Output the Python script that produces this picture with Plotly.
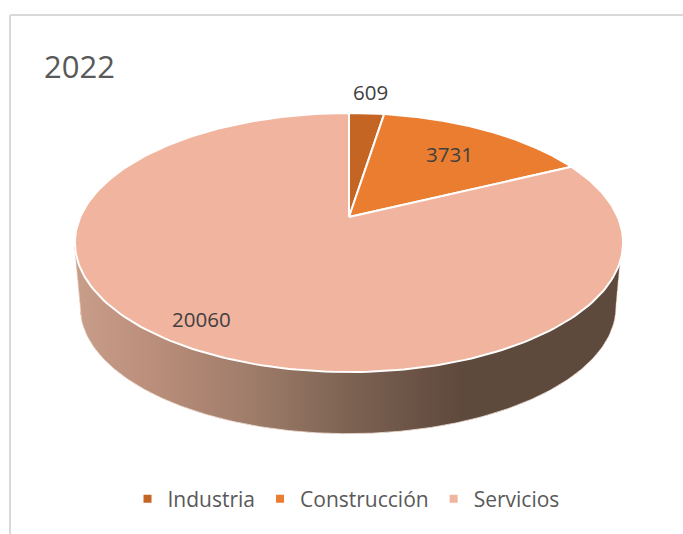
import numpy as np
import plotly.graph_objects as go

# --- data ---
title_text = "2022"
categories = ["Industria", "Construcción", "Servicios"]
values = [609, 3731, 20060]

# --- style ---
colors = ["#C46524", "#EB7D30", "#F1B49E"]
W, H = 683, 534
CX, CY = 349.0, 217.0      # pie apex on screen
A, B, P = 268.7, 124.5, 0.197  # perspective projection of the top disc
# ellipse outlines used for the side wall
TOP = dict(cx=348.0, cy=242.5, rx=274.0, ry=129.5)
BOT = dict(cx=348.0, cy=307.0, rx=268.0, ry=126.7)
grad_x = [74, 150, 250, 340, 400, 465, 622]
grad_rgb = [(201, 158, 139), (187, 143, 123), (160, 125, 107), (128, 101, 85),
            (111, 87, 73), (94, 73, 61), (94, 73, 61)]
label_r = [1.25, 0.70, 0.857]
label_shift = [(0, 0), (0, 0), (-5, 4)]


def project(theta, r=1.0):
    u, v = r * np.sin(theta), r * np.cos(theta)
    w = 1 + P * v
    return CX + A * u / w, CY - B * v / w


total = sum(values)
edges = np.cumsum([0] + values) / total * 2 * np.pi

fig = go.Figure()

# side wall: one thin bar per pixel column, shaded left to right
xs = np.arange(TOP["cx"] - TOP["rx"], TOP["cx"] + TOP["rx"], 1.0)
centers = xs + 0.5


def lower(e, x):
    d = np.clip((x - e["cx"]) / e["rx"], -1, 1)
    return e["cy"] + e["ry"] * np.sqrt(1 - d ** 2)


tops = lower(TOP, centers) - 2
bots = lower(BOT, centers)
# beyond the lower disc the silhouette is the straight side edge
for i, x in enumerate(centers):
    off = abs(x - TOP["cx"])
    if off > BOT["rx"]:
        t = (TOP["rx"] - off) / (TOP["rx"] - BOT["rx"])
        bots[i] = TOP["cy"] + t * (BOT["cy"] - TOP["cy"])
bar_colors = [
    "rgb(%d,%d,%d)" % tuple(np.interp(x, grad_x, [c[k] for c in grad_rgb]) for k in range(3))
    for x in centers
]
fig.add_trace(go.Bar(x=centers, base=tops, y=bots - tops, width=1.0,
                     marker=dict(color=bar_colors, line=dict(width=0)),
                     showlegend=False, hoverinfo="skip"))

# soft edge along the base of the wall
fig.add_trace(go.Scatter(x=centers, y=bots, mode="lines",
                         line=dict(color="rgba(240,225,215,0.8)", width=1),
                         showlegend=False, hoverinfo="skip"))

# top face slices
for i, name in enumerate(categories):
    th = np.linspace(edges[i], edges[i + 1], 240)
    px, py = project(th)
    fig.add_trace(go.Scatter(
        x=np.r_[CX, px, CX], y=np.r_[CY, py, CY], mode="lines", fill="toself",
        fillcolor=colors[i], line=dict(color="white", width=2),
        name=name, showlegend=False, hoverinfo="name"))

# legend keys
for i, name in enumerate(categories):
    fig.add_trace(go.Scatter(x=[None], y=[None], mode="markers", name=name,
                             marker=dict(symbol="square", size=8, color=colors[i])))

# data labels
for i, val in enumerate(values):
    mid = (edges[i] + edges[i + 1]) / 2
    lx, ly = project(mid, label_r[i])
    fig.add_annotation(x=lx, y=ly, text=str(val), showarrow=False,
                       xshift=label_shift[i][0], yshift=label_shift[i][1],
                       font=dict(family="Open Sans", size=20.5, color="#404040"))

fig.update_layout(
    width=W, height=H, margin=dict(l=0, r=0, t=0, b=0),
    paper_bgcolor="white", plot_bgcolor="white", barmode="overlay",
    xaxis=dict(range=[0, W], visible=False, fixedrange=True),
    yaxis=dict(range=[H, 0], visible=False, fixedrange=True),
    title=dict(text=title_text, x=44 / W, xanchor="left", y=1 - 67 / H, yanchor="middle",
               font=dict(family="Open Sans", size=31, color="#595959")),
    legend=dict(orientation="h", x=346 / W, xanchor="center", y=1 - 499 / H, yanchor="middle",
                font=dict(family="Open Sans", size=21, color="#595959"),
                bgcolor="rgba(0,0,0,0)"),
    shapes=[
        dict(type="line", xref="paper", yref="paper", x0=10 / W, x1=10 / W, y0=1 - 15 / H, y1=0,
             line=dict(color="#D9D9D9", width=2)),
        dict(type="line", xref="paper", yref="paper", x0=10 / W, x1=1, y0=1 - 15 / H, y1=1 - 15 / H,
             line=dict(color="#D9D9D9", width=2)),
    ],
)

fig.write_html("out.html", config={"displayModeBar": False},
               post_script="document.body.style.margin='0';document.body.style.overflow='hidden';")
